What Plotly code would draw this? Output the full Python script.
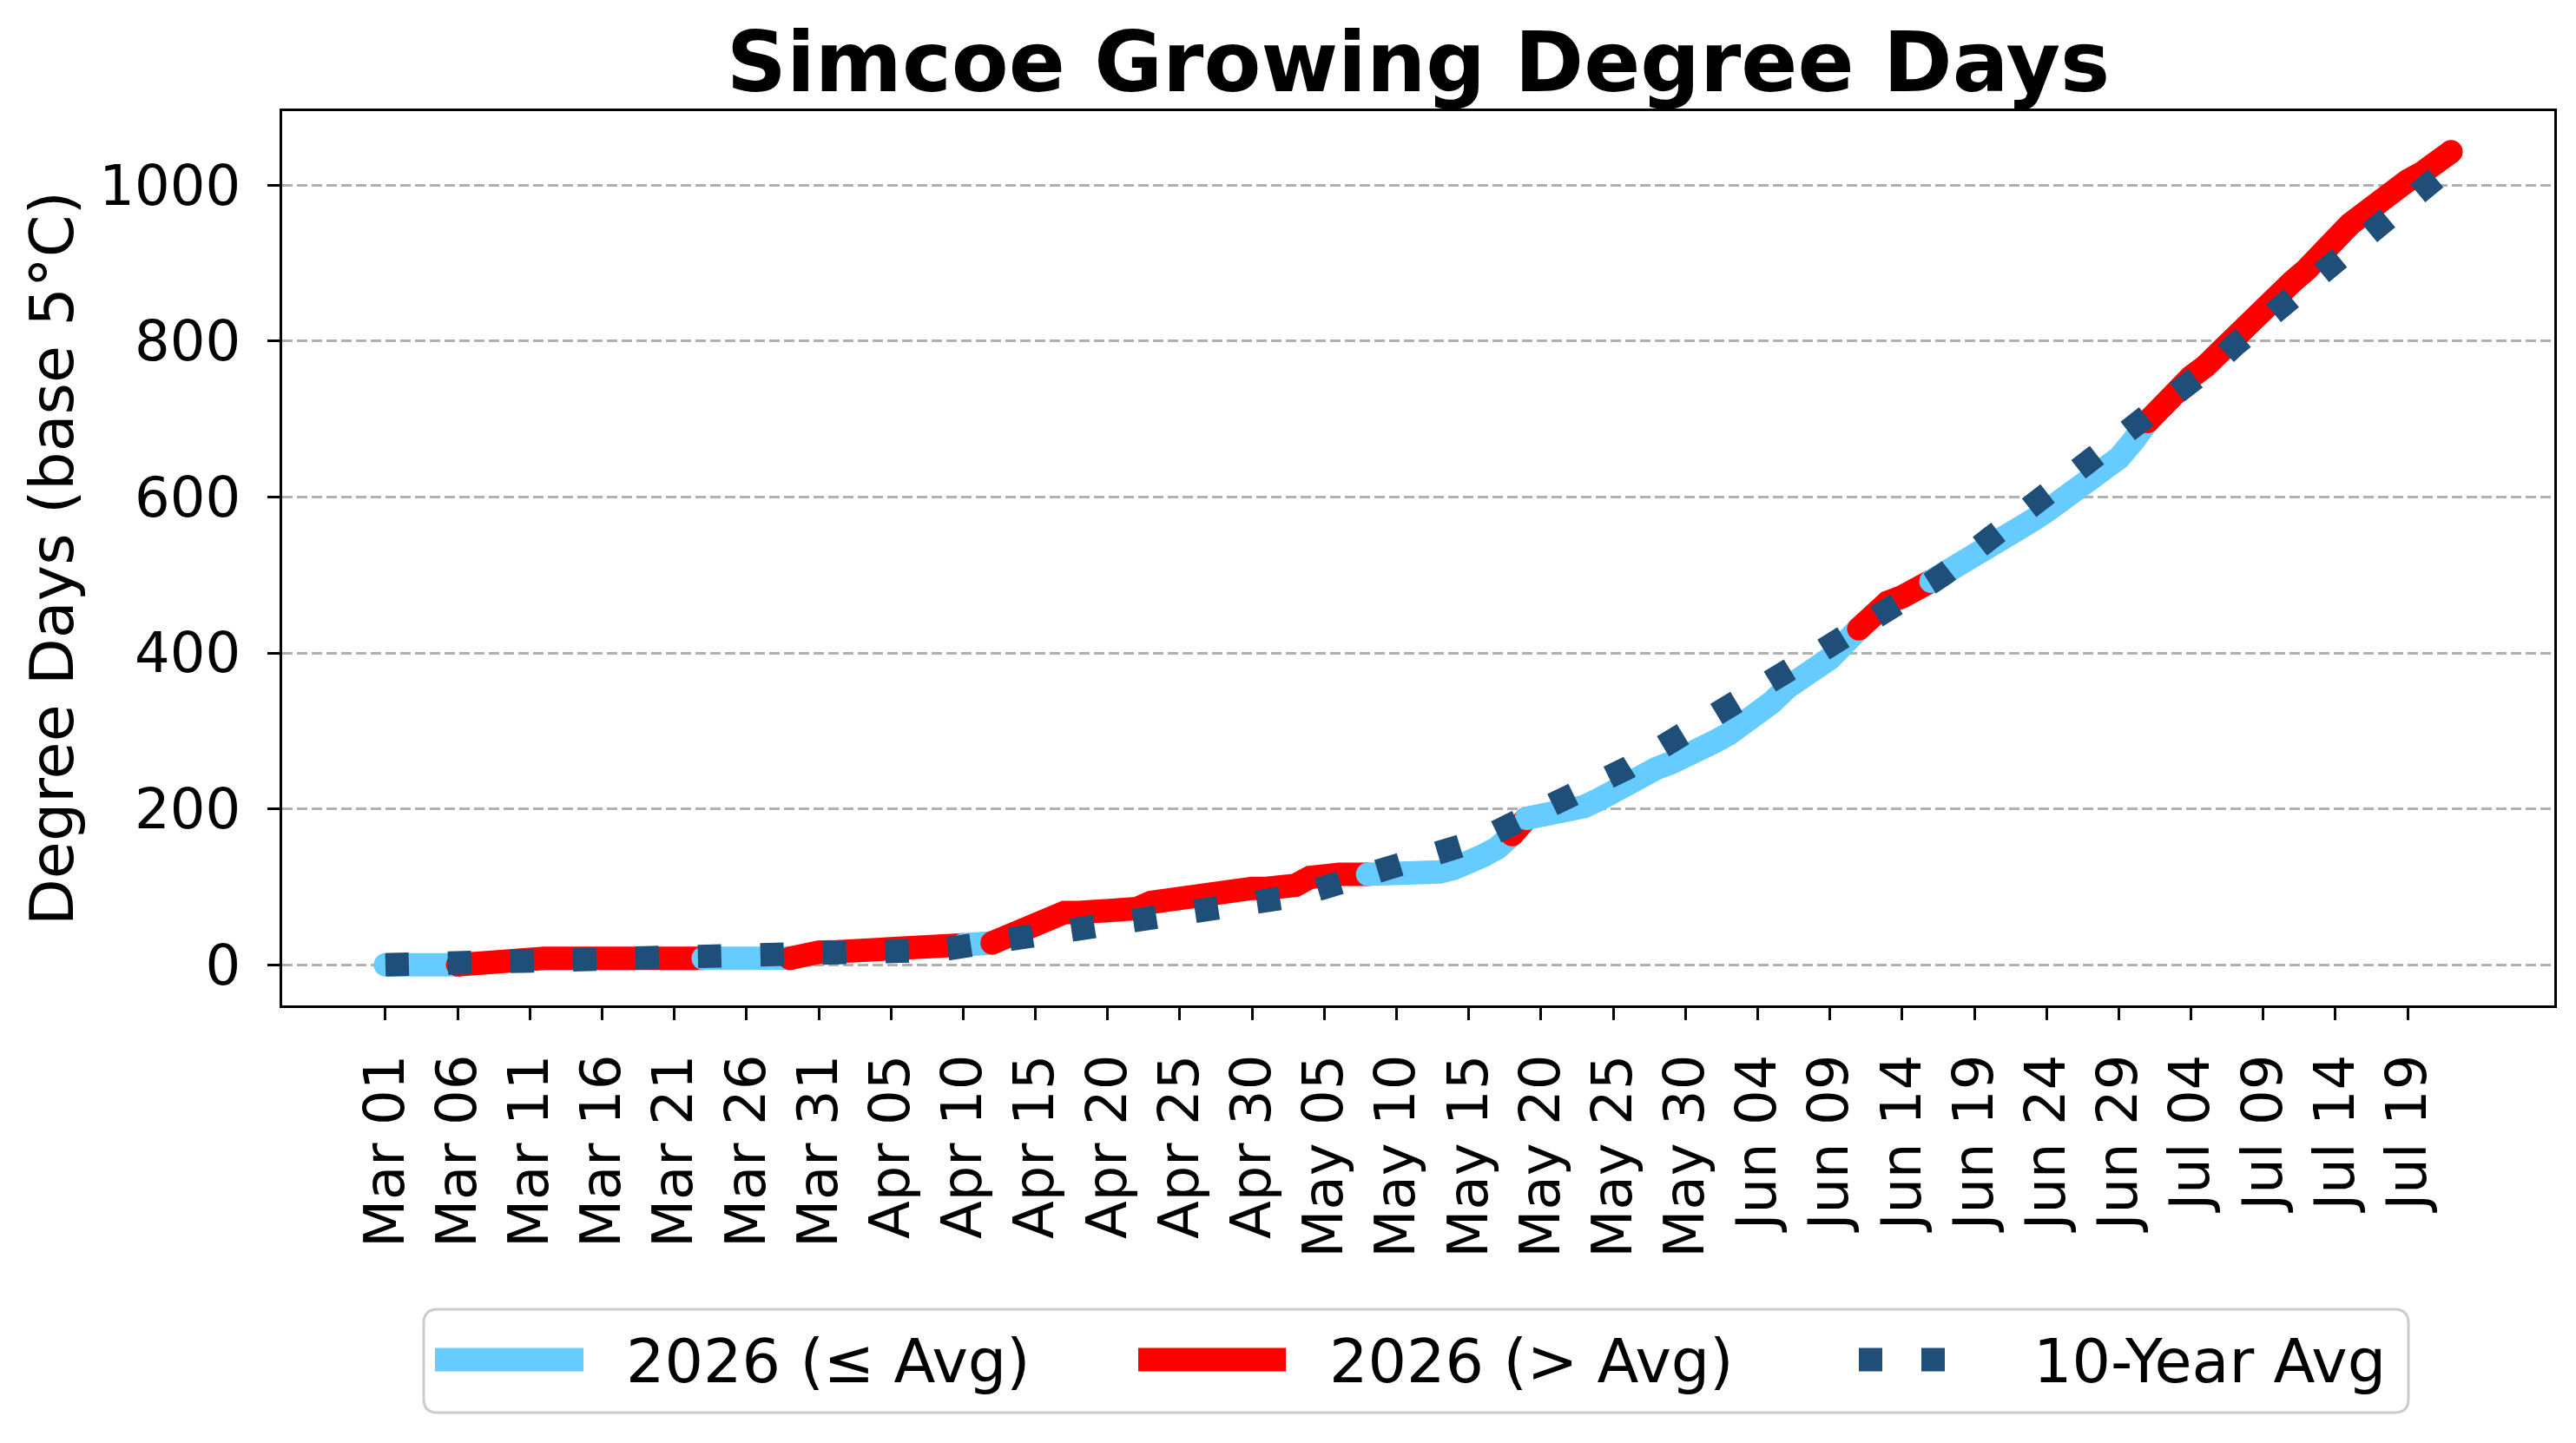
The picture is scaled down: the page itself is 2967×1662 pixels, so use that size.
import pandas as pd
import plotly.graph_objects as go

# Simcoe growing degree days (base 5C), daily from Mar 01
start_date = '2026-03-01'

gdd_2026 = [
    0, 0, 0, 0, 0, 0, 2.5, 3.5,
    8.2, 8.2, 8.2, 8.2, 8.2, 8.2, 8.2, 8.2, 8.2, 8.2, 8.2,
    8.2, 8.2, 8.2, 8.2, 8.2, 8.2, 8.2, 8.2, 8.2, 8.2,
    14, 16, 16.5, 17, 21.5, 22, 22, 22, 22, 22.5, 25, 25.5, 25.5, 28,
    37, 45, 53, 61, 67, 67, 67, 67, 68, 72,
    80, 83, 86, 90, 95, 98, 98, 98, 98, 98,
    102, 112, 116, 116, 116, 116,
    116, 116, 116.5, 117.5, 119, 124, 130, 140, 150, 167, 188, 191,
    195, 199, 203, 212, 224, 234, 244, 252, 259, 266,
    277, 286, 296, 308, 322, 337, 355, 366, 378, 393,
    412, 431,
    452, 465, 472, 481, 492, 502,
    515, 527, 538, 549, 558, 570, 582, 594, 606, 620,
    634, 650, 672, 697,
    719, 737, 754, 768, 787, 808, 828, 845, 860, 876,
    892, 915, 936, 950, 964, 980, 996, 1006, 1016, 1032,
    1043,
]

avg_10yr = [
    0, 0.3, 0.6, 0.9, 1.2, 1.5, 1.9, 2.3, 2.7, 3.1,
    3.5, 3.9, 4.2, 4.5, 4.9, 5.2, 5.6, 5.9, 6.3, 6.7,
    7.1, 7.5, 7.9, 8.3, 8.6, 9.0, 9.4, 9.8, 10.3, 10.8,
    11.4, 12.0, 12.6, 13.2, 13.9, 14.6, 15.6, 17.0, 18.7, 20.8,
    23.5, 26.8, 30.5, 34.5, 38.2, 41.0, 43.4, 45.6, 47.6, 49.5,
    51.3, 53.0, 55.0, 57.0, 59.2, 61.4, 63.6, 66.0, 68.8, 72.0,
    75.4, 78.8, 83.0, 88.0, 93.5, 98.5, 103.5, 108.5, 113.5, 118.8,
    124.5, 130.0, 136.0, 142.0, 148.5, 155.5, 162.5, 171.0, 179.0, 187.0,
    195.5, 204.0, 213.0, 222.0, 231.5, 241.5, 252.5, 264.0, 276.0, 288.0,
    298.5, 308.5, 318.5, 329.0, 341.0, 352.5, 364.5, 376.0, 387.5, 398.0,
    408.5, 420.0, 431.5, 443.5, 455.0, 466.5, 478.5, 490.0, 502.5, 516.5,
    531.0, 545.5, 560.0, 574.5, 589.0, 603.0, 617.0, 631.0, 645.0, 659.0,
    673.5, 687.5, 702.0, 716.5, 730.5, 745.5, 761.0, 777.0, 794.5, 810.0,
    825.0, 839.5, 855.0, 870.5, 886.0, 901.5, 917.0, 932.0, 947.5, 963.0,
    978.5, 994.0, 1009.5, 1025.0,
]

y_ticks = [0, 200, 400, 600, 800, 1000]
legend_labels = ['2026 (≤ Avg)', '2026 (> Avg)', '10-Year Avg']

BLUE = '#66CCFF'
RED = '#FF0000'
NAVY = '#1F4E79'
FONT = 'DejaVu Sans'
LW = 27
DOTS = '27px,45px'

dates = pd.date_range(start_date, periods=len(gdd_2026), freq='D')
above = [g > a for g, a in zip(gdd_2026, avg_10yr)]

# group consecutive daily segments by colour (segment i-1 -> i uses day i)
runs = []
for i in range(1, len(dates)):
    if runs and runs[-1][0] == above[i]:
        runs[-1][2] = i
    else:
        runs.append([above[i], i - 1, i])

fig = go.Figure()

for flag, s, e in runs:
    n = e - s + 1
    # round end caps like matplotlib's solid_capstyle='round'
    caps = [LW if k in (0, n - 1) else 0 for k in range(n)]
    color = RED if flag else BLUE
    fig.add_trace(go.Scatter(
        x=dates[s:e + 1],
        y=gdd_2026[s:e + 1],
        mode='lines+markers',
        line=dict(color=color, width=LW),
        marker=dict(color=color, size=caps, opacity=1, line=dict(width=0)),
        name=legend_labels[1] if flag else legend_labels[0],
        showlegend=False,
    ))

fig.add_trace(go.Scatter(
    x=dates,
    y=avg_10yr,
    mode='lines',
    line=dict(color=NAVY, width=LW, dash=DOTS),
    name=legend_labels[2],
    showlegend=False,
))

# page is offset 8px by the body margin; plot area sits at x 325-2942,
# y 128-1158 in screen pixels
PL, PR, PT, PB = 325, 2942, 128, 1158


def px(x):
    return (x - PL) / (PR - PL)


def py(y):
    return (PB - y) / (PB - PT)


# legend drawn by hand so the keys keep the long, thick matplotlib look
bx0, bx1, by0, by1, rad = 488, 2774, 1508, 1627, 16
rx = rad / (PR - PL)
ry = rad / (PB - PT)
box = (f'M{px(bx0) + rx},{py(by0)} L{px(bx1) - rx},{py(by0)} '
       f'Q{px(bx1)},{py(by0)} {px(bx1)},{py(by0) - ry} '
       f'L{px(bx1)},{py(by1) + ry} '
       f'Q{px(bx1)},{py(by1)} {px(bx1) - rx},{py(by1)} '
       f'L{px(bx0) + rx},{py(by1)} '
       f'Q{px(bx0)},{py(by1)} {px(bx0)},{py(by1) + ry} '
       f'L{px(bx0)},{py(by0) - ry} '
       f'Q{px(bx0)},{py(by0)} {px(bx0) + rx},{py(by0)} Z')
fig.add_shape(type='path', path=box, xref='paper', yref='paper',
              line=dict(color='#CCCCCC', width=3), fillcolor='white')

key_y = 1566
keys = [
    (501, 672, 719, BLUE, 'solid'),
    (1311, 1481, 1529, RED, 'solid'),
    (2141, 2241, 2340, NAVY, DOTS),
]
for (k0, k1, tx, color, dash), label in zip(keys, legend_labels):
    fig.add_shape(type='line', xref='paper', yref='paper',
                  x0=px(k0), x1=px(k1), y0=py(key_y), y1=py(key_y),
                  line=dict(color=color, width=LW, dash=dash))
    fig.add_annotation(text=label, xref='paper', yref='paper',
                       x=px(tx), y=py(key_y + 2), xanchor='left',
                       yanchor='middle', showarrow=False,
                       font=dict(family=FONT, size=70, color='black'))

n_days = len(dates) - 1
pad = pd.Timedelta(days=0.05 * n_days)
y_pad = 0.05 * max(gdd_2026)
tick_dates = dates[::5]

W, H = 2959, 1654
fig.update_layout(
    width=W,
    height=H,
    margin=dict(l=PL - 8, r=W + 8 - PR, t=PT - 8, b=H + 8 - PB),
    paper_bgcolor='white',
    plot_bgcolor='white',
    showlegend=False,
    font=dict(family=FONT, size=64, color='black'),
    title=dict(
        text='<b>Simcoe Growing Degree Days</b>',
        font=dict(family=FONT, size=96, color='black'),
        x=0.5, xref='paper', xanchor='center',
        y=1 - 63 / H, yref='container', yanchor='middle',
    ),
)

fig.update_xaxes(
    range=[dates[0] - pad, dates[-1] + pad],
    tickvals=tick_dates,
    ticktext=[d.strftime('%b %d') for d in tick_dates],
    tickangle=-90,
    ticks='outside',
    ticklen=14,
    tickwidth=3,
    tickcolor='black',
    ticklabelstandoff=14,
    showgrid=False,
    zeroline=False,
    showline=True,
    mirror=True,
    linecolor='black',
    linewidth=3,
)

fig.update_yaxes(
    range=[-y_pad, max(gdd_2026) + y_pad],
    tickvals=y_ticks,
    ticks='outside',
    ticklen=14,
    tickwidth=3,
    tickcolor='black',
    ticklabelstandoff=18,
    showgrid=True,
    gridcolor='#B0B0B0',
    gridwidth=3,
    griddash='12px,5px',
    zeroline=False,
    showline=True,
    mirror=True,
    linecolor='black',
    linewidth=3,
    title=dict(text='Degree Days (base 5°C)',
               font=dict(family=FONT, size=70), standoff=7),
)

fig.write_html('out.html')
